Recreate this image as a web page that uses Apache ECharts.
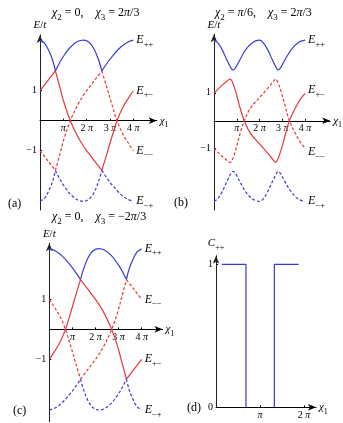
<!DOCTYPE html>
<html>
<head>
<meta charset="utf-8">
<script src="https://cdn.jsdelivr.net/npm/echarts@6/dist/echarts.min.js"></script>
<style>
  html, body { margin: 0; padding: 0; background: #fff; }
  #main { width: 343px; height: 423px; }
</style>
</head>
<body>
<div id="main"></div>
<script>
// x values are chi1 in units of pi, y values are E/t.
// every curve is split where it crosses another one (kinks stay sharp)

// (a) chi2 = 0, chi3 = 2pi/3
const aBlueSolid = [
  [[0, 2.69], [0.2, 2.58], [0.4, 2.3], [0.55, 2.0], [0.66, 1.66]],
  [[0.66, 1.66], [0.85, 1.95], [1.05, 2.2], [1.3, 2.45], [1.6, 2.64], [1.87, 2.69], [2.1, 2.62], [2.3, 2.42], [2.5, 2.05], [2.65, 1.66]],
  [[2.65, 1.66], [2.9, 1.95], [3.15, 2.2], [3.45, 2.45], [3.75, 2.62], [4, 2.69]]
];
const aRedSolid = [
  [[0, 1], [0.33, 1.33], [0.66, 1.66]],
  [[0.66, 1.66], [0.85, 1.12], [1.05, 0.55], [1.3, 0], [1.6, -0.5], [1.87, -0.86], [2.1, -1.1], [2.35, -1.36], [2.65, -1.66]],
  [[2.65, -1.66], [2.85, -1.15], [3.05, -0.62], [3.3, 0], [3.55, 0.45], [3.8, 0.77], [4, 1]]
];
const aRedDashed = [
  [[0, -1], [0.33, -1.33], [0.66, -1.66]],
  [[0.66, -1.66], [0.85, -1.12], [1.05, -0.55], [1.3, 0], [1.6, 0.5], [1.87, 0.86], [2.1, 1.1], [2.35, 1.36], [2.65, 1.66]],
  [[2.65, 1.66], [2.85, 1.15], [3.05, 0.62], [3.3, 0], [3.55, -0.45], [3.8, -0.77], [4, -1]]
];
const aBlueDashed = [
  [[0, -2.69], [0.2, -2.58], [0.4, -2.3], [0.55, -2.0], [0.66, -1.66]],
  [[0.66, -1.66], [0.85, -1.95], [1.05, -2.2], [1.3, -2.45], [1.6, -2.64], [1.87, -2.69], [2.1, -2.62], [2.3, -2.42], [2.5, -2.05], [2.65, -1.66]],
  [[2.65, -1.66], [2.9, -1.95], [3.15, -2.2], [3.45, -2.45], [3.75, -2.62], [4, -2.69]]
];

// (b) chi2 = pi/6, chi3 = 2pi/3 (gapped, no crossings with blue)
const bBlueSolid = [[
  [0, 2.88], [0.15, 2.8], [0.35, 2.55], [0.55, 2.2], [0.72, 1.92], [0.83, 1.81], [0.95, 1.9], [1.15, 2.2], [1.4, 2.55], [1.7, 2.8],
  [2, 2.88], [2.15, 2.8], [2.35, 2.55], [2.55, 2.2], [2.72, 1.92], [2.81, 1.81], [2.93, 1.9], [3.13, 2.2], [3.4, 2.55], [3.7, 2.8], [4, 2.88]
]];
const bRedSolid = [[
  [0, 0.98], [0.2, 1.15], [0.4, 1.3], [0.58, 1.42], [0.71, 1.49], [0.8, 1.4], [0.95, 1.05], [1.13, 0.5], [1.33, 0], [1.6, -0.45],
  [2, -0.83], [2.35, -1.15], [2.58, -1.38], [2.71, -1.49], [2.8, -1.38], [2.97, -0.98], [3.13, -0.5], [3.31, 0], [3.6, 0.5], [3.8, 0.78], [4, 0.98]
]];
const bRedDashed = [[
  [0, -0.98], [0.2, -1.15], [0.4, -1.3], [0.58, -1.42], [0.71, -1.49], [0.8, -1.4], [0.95, -1.05], [1.13, -0.5], [1.33, 0], [1.6, 0.45],
  [2, 0.83], [2.35, 1.15], [2.58, 1.38], [2.71, 1.49], [2.8, 1.38], [2.97, 0.98], [3.13, 0.5], [3.31, 0], [3.6, -0.5], [3.8, -0.78], [4, -0.98]
]];
const bBlueDashed = [[
  [0, -2.88], [0.15, -2.8], [0.35, -2.55], [0.55, -2.2], [0.72, -1.92], [0.83, -1.81], [0.95, -1.9], [1.15, -2.2], [1.4, -2.55], [1.7, -2.8],
  [2, -2.88], [2.15, -2.8], [2.35, -2.55], [2.55, -2.2], [2.72, -1.92], [2.81, -1.81], [2.93, -1.9], [3.13, -2.2], [3.4, -2.55], [3.7, -2.8], [4, -2.88]
]];

// (c) chi2 = 0, chi3 = -2pi/3
const cBlueSolid = [
  [[0, 2.69], [0.25, 2.62], [0.55, 2.45], [0.85, 2.2], [1.1, 1.95], [1.35, 1.66]],
  [[1.35, 1.66], [1.5, 2.05], [1.7, 2.42], [1.9, 2.62], [2.13, 2.69], [2.4, 2.64], [2.7, 2.45], [2.95, 2.2], [3.15, 1.95], [3.34, 1.66]],
  [[3.34, 1.66], [3.45, 2.0], [3.6, 2.3], [3.8, 2.58], [4, 2.69]]
];
const cRedSolid = [
  [[0, -1], [0.2, -0.77], [0.45, -0.45], [0.7, 0], [0.95, 0.62], [1.15, 1.15], [1.35, 1.66]],
  [[1.35, 1.66], [1.65, 1.36], [1.9, 1.1], [2.13, 0.86], [2.4, 0.5], [2.7, 0], [2.95, -0.55], [3.15, -1.12], [3.34, -1.66]],
  [[3.34, -1.66], [3.67, -1.33], [4, -1]]
];
const cRedDashed = [
  [[0, 1], [0.2, 0.77], [0.45, 0.45], [0.7, 0], [0.95, -0.62], [1.15, -1.15], [1.35, -1.66]],
  [[1.35, -1.66], [1.65, -1.36], [1.9, -1.1], [2.13, -0.86], [2.4, -0.5], [2.7, 0], [2.95, 0.55], [3.15, 1.12], [3.34, 1.66]],
  [[3.34, 1.66], [3.67, 1.33], [4, 1]]
];
const cBlueDashed = [
  [[0, -2.69], [0.25, -2.62], [0.55, -2.45], [0.85, -2.2], [1.1, -1.95], [1.35, -1.66]],
  [[1.35, -1.66], [1.5, -2.05], [1.7, -2.42], [1.9, -2.62], [2.13, -2.69], [2.4, -2.64], [2.7, -2.45], [2.95, -2.2], [3.15, -1.95], [3.34, -1.66]],
  [[3.34, -1.66], [3.45, -2.0], [3.6, -2.3], [3.8, -2.58], [4, -2.69]]
];

// (d) C++ step
const dCpp = [
  [[0.13, 1], [0.68, 1], [0.68, 0]],
  [[1.325, 0], [1.325, 1], [1.88, 1]]
];

const piTicks = [1, 2, 3, 4];
const piLabels = ['{i|π}', '2 {i|π}', '3 {i|π}', '4 {i|π}'];
const eTicks = [-1, 1];
const eLabels = ['−1', '1'];
const dXTicks = [1, 2];
const dXLabels = ['{i|π}', '2 {i|π}'];
const dYTicks = [0, 1];

const FONT = '"Liberation Serif", "DejaVu Serif", serif';
const BLUE = '#3b3bdc';
const RED = '#e8373b';

const richSub = {
  i: { fontStyle: 'italic', fontFamily: FONT, fontSize: 11, verticalAlign: 'middle' },
  s: { fontFamily: FONT, fontSize: 8, lineHeight: 17, verticalAlign: 'bottom' }
};
const richLabel = {
  i: { fontStyle: 'italic', fontFamily: FONT, fontSize: 12, verticalAlign: 'middle' },
  s: { fontFamily: FONT, fontSize: 8.5, lineHeight: 18, verticalAlign: 'bottom' }
};

const dom = document.getElementById('main');
const myChart = echarts.init(dom, null, { renderer: 'canvas' });

// join segments with a gap so each piece is smoothed on its own
function joinSegs(segs) {
  const out = [];
  segs.forEach((s, k) => {
    if (k) out.push([s[0][0], null]);
    s.forEach(p => out.push(p));
  });
  return out;
}

function curve(idx, segs, color, dashed, name, off) {
  return {
    type: 'line',
    xAxisIndex: idx,
    yAxisIndex: idx,
    data: joinSegs(segs),
    smooth: 0.35,
    symbol: 'none',
    connectNulls: false,
    silent: true,
    lineStyle: { color: color, width: 1.2, type: dashed ? [3, 2] : 'solid' },
    endLabel: name ? {
      show: true,
      distance: 3,
      offset: off || [0, 0],
      formatter: '{i|E}{s|' + name + '}',
      color: '#000',
      rich: richLabel
    } : { show: false }
  };
}

// the x axis sits on E = 0; offset (negative) lifts it from the grid bottom
function xAxis(idx, max, ticks, labels, lift) {
  return {
    gridIndex: idx, type: 'value', min: 0, max: max,
    position: 'bottom', offset: -lift,
    name: '{i|χ}{s|1}', nameLocation: 'end', nameGap: 3,
    nameTextStyle: { color: '#000', fontFamily: FONT, fontSize: 11, rich: richSub },
    axisLine: { onZero: false, symbol: ['none', 'arrow'], symbolSize: [5, 8], lineStyle: { color: '#000', width: 1 } },
    axisTick: { show: true, inside: true, length: 2, customValues: ticks, lineStyle: { color: '#000' } },
    axisLabel: {
      customValues: ticks, margin: 3, color: '#000', fontFamily: FONT, fontSize: 10,
      formatter: v => labels[ticks.indexOf(v)] || '',
      rich: { i: { fontStyle: 'italic', fontFamily: FONT, fontSize: 10 } }
    },
    splitLine: { show: false }
  };
}

function yAxis(idx, min, max, ticks, labels, name) {
  return {
    gridIndex: idx, type: 'value', min: min, max: max,
    name: name, nameLocation: 'end', nameGap: 4,
    nameTextStyle: { color: '#000', fontFamily: FONT, fontSize: 11, rich: richSub },
    axisLine: { onZero: false, symbol: ['none', 'arrow'], symbolSize: [5, 8], lineStyle: { color: '#222', width: 1 } },
    axisTick: { show: true, inside: true, length: 2, customValues: ticks, lineStyle: { color: '#000' } },
    axisLabel: {
      customValues: ticks, margin: 3, color: '#000', fontFamily: FONT, fontSize: 10,
      formatter: v => labels[ticks.indexOf(v)]
    },
    splitLine: { show: false }
  };
}

function textTitle(text, left, top, size) {
  return {
    text: text, left: left, top: top, padding: 0,
    textStyle: {
      color: '#000', fontFamily: FONT, fontSize: size, fontWeight: 'normal',
      rich: {
        i: { fontStyle: 'italic', fontFamily: FONT, fontSize: size, verticalAlign: 'middle' },
        s: { fontFamily: FONT, fontSize: size - 3, lineHeight: size + 6, verticalAlign: 'bottom' }
      }
    }
  };
}

const option = {
  animation: false,
  title: [
    textTitle('{i|χ}{s|2} = 0,    {i|χ}{s|3} = 2{i|π}/3', 52, 4, 12),
    textTitle('{i|χ}{s|2} = {i|π}/6,    {i|χ}{s|3} = 2{i|π}/3', 215, 4, 12),
    textTitle('{i|χ}{s|2} = 0,    {i|χ}{s|3} = −2{i|π}/3', 52, 208, 12),
    textTitle('(a)', 8, 198, 12),
    textTitle('(b)', 174, 197, 12),
    textTitle('(c)', 13, 405, 12),
    textTitle('(d)', 187, 402, 12)
  ],
  grid: [
    { left: 40, top: 35, width: 116.7, height: 175 },
    { left: 214, top: 34.3, width: 118.6, height: 175.7 },
    { left: 49.3, top: 243.3, width: 113.2, height: 178.4 },
    { left: 216, top: 255.7, width: 100, height: 151.6 }
  ],
  xAxis: [
    xAxis(0, 5, piTicks, piLabels, 89.3),
    xAxis(1, 5.1, piTicks, piLabels, 89.25),
    xAxis(2, 4.9, piTicks, piLabels, 92.35),
    xAxis(3, 2.27, dXTicks, dXLabels, 0)
  ],
  yAxis: [
    yAxis(0, -2.98, 2.86, eTicks, eLabels, '{i|E}/{i|t}'),
    yAxis(1, -3.19, 3.09, eTicks, eLabels, '{i|E}/{i|t}'),
    yAxis(2, -3.08, 2.87, eTicks, eLabels, '{i|E}/{i|t}'),
    yAxis(3, 0, 1.06, dYTicks, ['0', '1'], '{i|C}{s|++}')
  ],
  series: [
    curve(0, aBlueSolid, BLUE, false, '++'),
    curve(0, aRedSolid, RED, false, '+−'),
    curve(0, aRedDashed, RED, true, '−−'),
    curve(0, aBlueDashed, BLUE, true, '−+'),

    curve(1, bBlueSolid, BLUE, false, '++'),
    curve(1, bRedSolid, RED, false, '+−', [0, -3]),
    curve(1, bRedDashed, RED, true, '−−', [0, 4]),
    curve(1, bBlueDashed, BLUE, true, '−+'),

    curve(2, cBlueSolid, BLUE, false, '++'),
    curve(2, cRedDashed, RED, true, '−−'),
    curve(2, cRedSolid, RED, false, '+−'),
    curve(2, cBlueDashed, BLUE, true, '−+'),

    {
      type: 'line', xAxisIndex: 3, yAxisIndex: 3, data: joinSegs(dCpp),
      symbol: 'none', connectNulls: false, silent: true,
      lineStyle: { color: BLUE, width: 1.2 }
    }
  ]
};

myChart.setOption(option);
window.addEventListener('resize', function () {
  myChart.resize();
});
</script>
</body>
</html>
